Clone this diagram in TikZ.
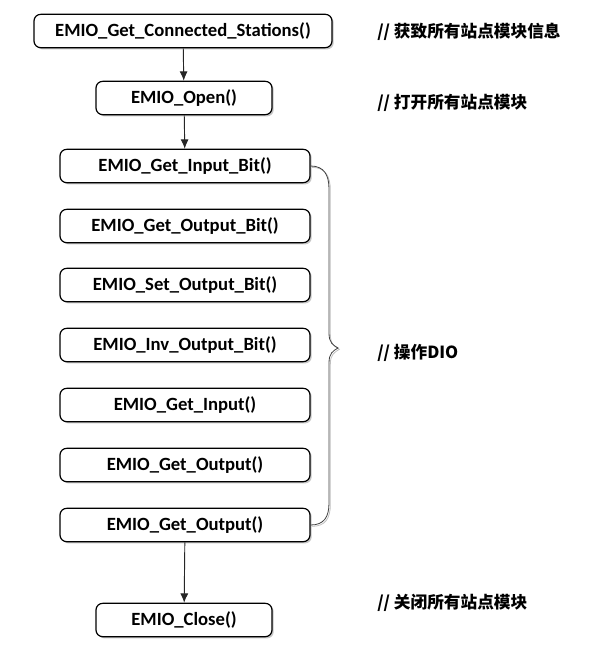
\documentclass[tikz,border=0pt]{standalone}
\usepackage{fontspec}
\setmainfont{Carlito}
\newfontfamily\cjk{Noto Sans CJK SC}
\usetikzlibrary{shadows,arrows.meta}
\tikzset{
  func/.style={draw=black,line width=0.9pt,rounded corners=5pt,fill=white,
    minimum height=25pt,inner sep=0pt,font=\fontsize{14}{16}\selectfont\bfseries,
    drop shadow={shadow xshift=1.3pt,shadow yshift=-1.3pt,opacity=0.45}},
  note/.style={anchor=west,inner sep=0pt,font=\fontsize{12.5}{15}\selectfont\bfseries\cjk},
  brace/.style={line width=0.6pt}
}
\newcommand\dioBrace{(inbit.east) .. controls (324,166) and (329,175) .. (329,189) -- (329,333)
        .. controls (329,343) and (333,345) .. (338,348) .. controls (333,351) and (329,353) .. (329,363)
        -- (329,503) .. controls (329,517) and (324,525) .. (output2.east)}
\begin{document}
\begin{tikzpicture}[x=0.75pt,y=-0.75pt]
      \useasboundingbox (0,0) rectangle (590,652);
      \draw
        (183,31) node[func,minimum width=223.5pt] (conn){EMIO\_Get\_Connected\_Stations()}
        (184,98) node[func,minimum width=132pt] (open){EMIO\_Open()}
        (185,166) node[func,minimum width=187.5pt] (inbit){EMIO\_Get\_Input\_Bit()}
        (185,226) node[func,minimum width=187.5pt] (getbit){EMIO\_Get\_Output\_Bit()}
        (185,285) node[func,minimum width=187.5pt] (setbit){EMIO\_Set\_Output\_Bit()}
        (185,345) node[func,minimum width=187.5pt] (invbit){EMIO\_Inv\_Output\_Bit()}
        (185,405) node[func,minimum width=187.5pt] (input){EMIO\_Get\_Input()}
        (185,465) node[func,minimum width=187.5pt] (output){EMIO\_Get\_Output()}
        (185,525) node[func,minimum width=187.5pt] (output2){EMIO\_Get\_Output()}
        (184,620) node[func,minimum width=132pt] (close){EMIO\_Close()};
      \draw
        (377,32) node[note] (n1){// 获致所有站点模块信息}
        (377,103) node[note] (n2){// 打开所有站点模块}
        (377,353) node[note] (n3){// 操作DIO}
        (377,603) node[note] (n4){// 关闭所有站点模块};
      \begin{scope}[-{Latex[length=7pt,width=6pt]},draw=black!85,line width=0.7pt]
        \draw (conn) to (open);
        \draw (open) to (inbit);
        \draw (output2) to (close);
      \end{scope}
      % brace over the DIO calls
      \draw[brace,black!25,transform canvas={shift={(1pt,-1pt)}}] \dioBrace;
      \draw[brace,black!75] \dioBrace;
    \end{tikzpicture}
\end{document}
